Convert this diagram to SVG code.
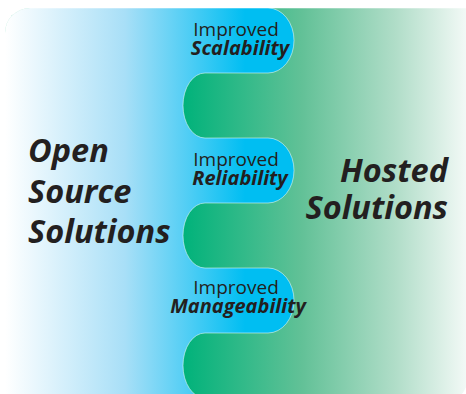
<svg xmlns="http://www.w3.org/2000/svg" width="466" height="394" viewBox="0 0 466 394">
  <defs>
    <linearGradient id="gBlue" gradientUnits="userSpaceOnUse" x1="5" y1="0" x2="245" y2="0">
      <stop offset="0" stop-color="#FFFFFF"/>
      <stop offset="0.5" stop-color="#A8DFF7"/>
      <stop offset="1" stop-color="#00BEF2"/>
    </linearGradient>
    <linearGradient id="gGreen" gradientUnits="userSpaceOnUse" x1="183" y1="0" x2="466" y2="0">
      <stop offset="0" stop-color="#00B27A"/>
      <stop offset="0.42" stop-color="#62C197"/>
      <stop offset="0.75" stop-color="#B0DDC8"/>
      <stop offset="1" stop-color="#F2F9F6"/>
    </linearGradient>
  </defs>
  <style>
    .small { font-family: "Open Sans", "Liberation Sans", sans-serif; font-size: 19px; fill: #231F20; text-anchor: middle; }
    .bi { font-weight: bold; font-style: italic; font-size: 20px; }
    .big { font-family: "Open Sans", "Liberation Sans", sans-serif; font-size: 32.5px; font-weight: bold; font-style: italic; fill: #231F20; }
  </style>
  <rect width="466" height="394" fill="#FFFFFF"/>
  <g id="hosted-solutions">
    <path d="M5,33 A25,25 0 0 1 30,8 H468 V378 A25,25 0 0 1 443,403 H5 Z" fill="url(#gGreen)" stroke="#FFFFFF" stroke-opacity="0.5" stroke-width="1"/>
    <text class="big" text-anchor="end"><tspan x="448" y="182">Hosted</tspan><tspan x="448" y="219">Solutions</tspan></text>
  </g>
  <g id="open-source-solutions">
    <path d="M5,33 A25,25 0 0 1 30,8 H268 A26,32.5 0 0 1 268,73 H205 A22,32.5 0 0 0 205,138 H268 A26,32.5 0 0 1 268,203 H205 A22,32.5 0 0 0 205,268 H268 A26,32.5 0 0 1 268,333 H205 A22,32.5 0 0 0 205,398 H5 Z" fill="url(#gBlue)" stroke="#FFFFFF" stroke-opacity="0.5" stroke-width="1"/>
    <text class="big"><tspan x="28" y="162">Open</tspan><tspan x="28" y="203">Source</tspan><tspan x="28" y="243">Solutions</tspan></text>
  </g>
  <g id="scalability">
    <text class="small" x="236" y="36">Improved</text>
    <text class="small bi" x="240" y="55">Scalability</text>
  </g>
  <g id="reliability">
    <text class="small" x="236" y="166">Improved</text>
    <text class="small bi" x="240" y="185">Reliability</text>
  </g>
  <g id="manageability">
    <text class="small" x="236" y="294">Improved</text>
    <text class="small bi" x="238" y="313">Manageability</text>
  </g>
  <g id="connectors"/>
</svg>
